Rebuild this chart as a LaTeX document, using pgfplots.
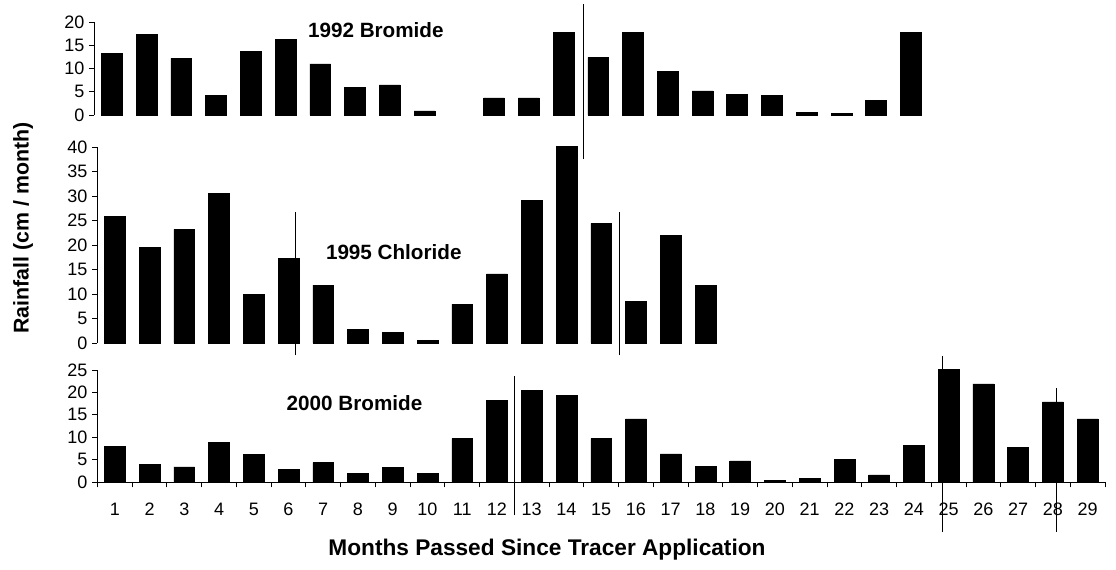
\documentclass[border=0pt]{standalone}
\usepackage{fontspec}
\setmainfont{Liberation Sans}
\usepackage{pgfplots}
\pgfplotsset{compat=1.18}
\tikzset{ttl/.style={font=\fontsize{15.5}{16}\selectfont\bfseries}}
\begin{document}
\begin{tikzpicture}
\path[use as bounding box] (0pt,0pt) rectangle (837pt,426.75pt);
\pgfplotsset{
  panel/.style={
    scale only axis, width=755.7pt, xmin=0.5, xmax=29.5, ymin=0,
    axis y line=left, axis line style={-, black, line width=0.6pt},
    ytick align=outside, major tick length=4pt,
    tick style={black, line width=0.6pt},
    tick label style={font=\fontsize{13.5}{14}\selectfont},
    /pgf/number format/assume math mode=true,
    clip=false, anchor=south west,
  },
  bars/.style={ybar, bar width=0.6, fill=black, draw=black},
  vline/.style={black, line width=0.8pt},
}
% 1992 Bromide
\begin{axis}[panel, at={(70.8pt,340.5pt)}, height=69.75pt, ymax=20, ytick={0,5,...,20}, axis x line=none]
\addplot[bars] coordinates {(1,13.3)(2,17.3)(3,12.2)(4,4.3)(5,13.7)(6,16.2)(7,11.0)(8,5.9)(9,6.5)(10,0.9)(12,3.7)(13,3.7)(14,17.8)(15,12.4)(16,17.8)(17,9.4)(18,5.2)(19,4.5)(20,4.2)(21,0.5)(22,0.4)(23,3.2)(24,17.8)};
\addplot[vline] coordinates {(14.57,-9.5)(14.57,23.9)};
\node[ttl] at (axis cs:8.6,18.3) {1992 Bromide};
\end{axis}
% 1995 Chloride
\begin{axis}[panel, at={(73.05pt,169.5pt)}, height=147pt, ymax=40, ytick={0,5,...,40}, axis x line=none]
\addplot[bars] coordinates {(1,25.9)(2,19.5)(3,23.2)(4,30.6)(5,10.0)(6,17.2)(7,11.8)(8,2.8)(9,2.2)(10,0.5)(11,7.9)(12,14.1)(13,29.1)(14,40.2)(15,24.4)(16,8.5)(17,21.9)(18,11.8)};
\addplot[vline] coordinates {(6.21,-2.45)(6.21,26.8)};
\addplot[vline] coordinates {(15.52,-2.45)(15.52,26.8)};
\node[ttl] at (axis cs:9.03,18.6) {1995 Chloride};
\end{axis}
% 2000 Bromide
\begin{axis}[panel, at={(73.05pt,65.25pt)}, height=84pt, ymax=25, ytick={0,5,...,25},
  axis x line=bottom, x axis line style={-}, xtick={1,...,29}, minor xtick={0.5,1.5,...,29.5},
  xtick align=outside, major x tick style={draw=none}, minor tick length=4pt,
  xticklabel style={yshift=-8pt}]
\addplot[bars] coordinates {(1,7.9)(2,4.0)(3,3.4)(4,8.9)(5,6.2)(6,2.9)(7,4.3)(8,2.0)(9,3.3)(10,2.0)(11,9.7)(12,18.3)(13,20.4)(14,19.4)(15,9.7)(16,14.1)(17,6.3)(18,3.5)(19,4.7)(20,0.3)(21,0.8)(22,5.1)(23,1.6)(24,8.2)(25,25.2)(26,21.9)(27,7.7)(28,17.9)(29,14.1)};
\addplot[vline] coordinates {(12.51,-7.4)(12.51,23.7)};
\addplot[vline] coordinates {(24.82,-11.2)(24.82,28.1)};
\addplot[vline] coordinates {(28.1,-11.2)(28.1,21.0)};
\node[ttl] at (axis cs:7.9,17.6) {2000 Bromide};
\end{axis}
\node[rotate=90, font=\fontsize{16}{17}\selectfont\bfseries] at (17.25pt,255.75pt) {Rainfall (cm / month)};
\node[font=\fontsize{17}{18}\selectfont\bfseries] at (410.25pt,14.5pt) {Months Passed Since Tracer Application};
\end{tikzpicture}
\end{document}
